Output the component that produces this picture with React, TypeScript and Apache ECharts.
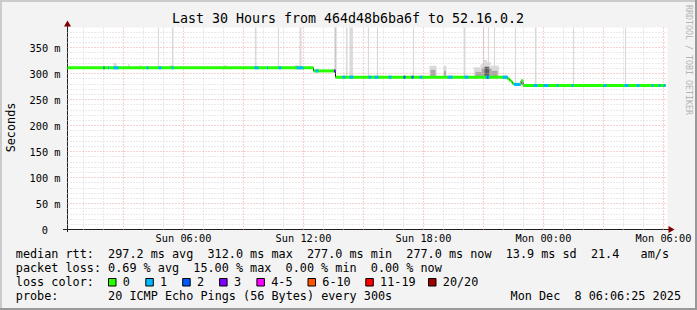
import React, { useEffect, useRef } from 'react';
import * as echarts from 'echarts';

// ---- data (x = hours since Sun 00:00, y = milliseconds) ----
const TITLE = 'Last 30 Hours from 464d48b6ba6f to 52.16.0.2';
const X_MIN = 0.2;
const X_MAX = 30.2;
const Y_MAX = 388.5;
const xLabelHours = [6, 12, 18, 24, 30];
const xLabelTexts = ['Sun 06:00', 'Sun 12:00', 'Sun 18:00', 'Mon 00:00', 'Mon 06:00'];
const yLabelValues = [0, 50, 100, 150, 200, 250, 300, 350];

// [startHour, endHour, median ms]
const medianSegments: number[][] = [
  [0.2, 12.5, 311],
  [12.5, 13.6, 305],
  [13.6, 22.2, 293],
  [22.2, 22.3, 290],
  [22.3, 22.38, 287],
  [22.38, 22.45, 284],
  [22.45, 22.52, 281],
  [22.52, 22.88, 279],
  [22.88, 22.98, 286],
  [22.98, 30.1, 277],
];

// [startHour, endHour, median ms, loss class]
const lossSegments: number[][] = [
  [2.0, 2.05, 311, 2],
  [2.22, 2.28, 311, 1],
  [2.5, 2.75, 311, 1],
  [4.15, 4.25, 311, 1],
  [4.75, 4.9, 311, 1],
  [5.4, 5.5, 311, 1],
  [9.55, 9.75, 311, 1],
  [10.17, 10.23, 311, 1],
  [10.75, 10.9, 311, 1],
  [11.65, 12.0, 311, 1],
  [12.6, 12.75, 305, 1],
  [13.52, 13.6, 305, 3],
  [13.95, 14.1, 293, 1],
  [14.3, 14.5, 293, 1],
  [15.25, 15.4, 293, 1],
  [15.55, 15.75, 293, 1],
  [16.25, 16.4, 293, 1],
  [17.0, 17.1, 293, 2],
  [17.4, 17.5, 293, 2],
  [17.8, 17.95, 293, 1],
  [19.2, 19.45, 293, 1],
  [20.05, 20.25, 293, 1],
  [21.1, 21.3, 293, 1],
  [21.18, 21.24, 293, 2],
  [21.95, 22.2, 293, 1],
  [22.52, 22.85, 279, 1],
  [23.5, 23.7, 277, 1],
  [24.0, 24.25, 277, 1],
  [24.65, 24.75, 277, 1],
  [25.4, 25.5, 277, 1],
  [27.0, 27.15, 277, 1],
  [28.05, 28.25, 277, 1],
  [28.65, 28.8, 277, 1],
  [29.4, 29.5, 277, 1],
  [29.75, 29.85, 277, 1],
  [30.0, 30.1, 277, 1],
];

// outlier pings running off the top: [startHour, endHour, from ms, shade]
const spikes: number[][] = [
  [4.72, 4.78, 311, 0],
  [5.42, 5.5, 311, 0],
  [9.57, 9.65, 311, 0],
  [10.72, 10.78, 311, 0],
  [11.8, 11.9, 311, 0],
  [13.55, 13.65, 305, 3],
  [14.12, 14.2, 293, 0],
  [14.3, 14.47, 293, 0],
  [15.22, 15.28, 293, 0],
  [15.67, 15.73, 293, 0],
  [17.47, 17.53, 293, 0],
  [20.02, 20.1, 293, 0],
  [20.97, 21.03, 293, 0],
  [21.22, 21.28, 293, 0],
  [21.52, 21.58, 293, 0],
  [22.57, 22.63, 280, 0],
  [23.57, 23.65, 277, 0],
  [25.47, 25.53, 277, 0],
  [28.07, 28.13, 277, 0],
];

// smoke: [startHour, endHour, low ms, high ms, shade]
const smoke: number[][] = [
  [2.5, 2.65, 311, 320, 0],
  [3.22, 3.3, 311, 318, 0],
  [3.8, 3.9, 311, 316, 0],
  [5.3, 5.45, 311, 316, 0],
  [8.0, 8.15, 311, 316, 0],
  [11.55, 11.75, 311, 316, 0],
  [12.65, 12.75, 305, 309, 0],
  [18.3, 18.65, 293, 315, 0],
  [18.35, 18.6, 293, 307, 1],
  [19.0, 19.15, 293, 315, 0],
  [19.03, 19.12, 293, 305, 1],
  [20.52, 20.85, 293, 312, 0],
  [20.85, 20.98, 293, 318, 0],
  [20.98, 21.18, 293, 326, 0],
  [21.18, 21.35, 293, 322, 0],
  [21.35, 21.77, 293, 315, 0],
  [20.6, 20.9, 293, 303, 1],
  [20.9, 21.4, 293, 310, 1],
  [21.4, 21.7, 293, 305, 1],
  [21.05, 21.28, 293, 313, 2],
  [23.75, 23.85, 277, 281, 0],
];

const smokeShades = ['#dadada', '#a9a9a9', '#5f5f5f', '#c8c8c8'];
const lossColors = ['#26ff00', '#00b8ff', '#0059ff', '#7e00ff', '#ff00ff', '#ff5500', '#ff0000', '#a10000'];
const lossLabels = ['0', '1', '2', '3', '4-5', '6-10', '11-19', '20/20'];

const rttLine = ['median rtt:', '297.2 ms avg', '312.0 ms max', '277.0 ms min', '277.0 ms now', '13.9 ms sd', '21.4', 'am/s'];
const rttCols = [0, 13, 27, 41, 55, 69, 81, 88];
const lossLine = ['packet loss:', '0.69 % avg', '15.00 % max', '0.00 % min', '0.00 % now'];
const lossCols = [0, 13, 25, 38, 50];
const probeLabel = 'probe:';
const probeText = '20 ICMP Echo Pings (56 Bytes) every 300s';
const stamp = ['Mon Dec', '8 06:06:25 2025'];

const MONO = '"DejaVu Sans Mono", "Liberation Mono", monospace';

export default function App() {
  const ref = useRef<HTMLDivElement>(null);

  useEffect(() => {
    if (!ref.current) return;
    const chart = echarts.init(ref.current, undefined, { renderer: 'svg' });

    const COL = 7.1;
    const X0 = 15.8;
    const legendFont = `11.8px ${MONO}`;
    const txt = (text: string, x: number, y: number, extra: any = {}) => ({
      type: 'text',
      x,
      y,
      silent: true,
      style: { text, font: legendFont, fill: '#000', textAlign: 'left', textVerticalAlign: 'middle', ...extra },
    });

    const graphics: any[] = [];
    // frame shading
    graphics.push({ type: 'rect', shape: { x: 0, y: 0, width: 697, height: 2 }, style: { fill: '#cbcbcb' }, silent: true });
    graphics.push({ type: 'rect', shape: { x: 0, y: 0, width: 2, height: 310 }, style: { fill: '#cbcbcb' }, silent: true });
    graphics.push({ type: 'rect', shape: { x: 695, y: 0, width: 2, height: 310 }, style: { fill: '#999999' }, silent: true });
    graphics.push({ type: 'rect', shape: { x: 0, y: 308, width: 697, height: 2 }, style: { fill: '#999999' }, silent: true });

    graphics.push({
      type: 'text', x: 348, y: 18.5, silent: true,
      style: { text: TITLE, font: `13.3px ${MONO}`, fill: '#000', textAlign: 'center', textVerticalAlign: 'middle' },
    });
    graphics.push({
      type: 'text', x: 10.5, y: 127.5, rotation: Math.PI / 2, silent: true,
      style: { text: 'Seconds', font: legendFont, fill: '#000', textAlign: 'center', textVerticalAlign: 'middle' },
    });
    graphics.push({
      type: 'text', x: 689, y: 5, rotation: -Math.PI / 2, silent: true,
      style: { text: 'RRDTOOL / TOBI OETIKER', font: `8.3px ${MONO}`, fill: '#b3b3b3', textAlign: 'left', textVerticalAlign: 'middle' },
    });
    // axis extensions and arrows
    graphics.push({ type: 'line', shape: { x1: 63, y1: 229.5, x2: 669, y2: 229.5 }, style: { stroke: '#202020', lineWidth: 1 }, silent: true });
    graphics.push({ type: 'line', shape: { x1: 67.5, y1: 232, x2: 67.5, y2: 26 }, style: { stroke: '#202020', lineWidth: 1 }, silent: true });
    graphics.push({ type: 'polygon', shape: { points: [[64, 26.5], [71, 26.5], [67.5, 20.5]] }, style: { fill: '#7f0000' }, silent: true });
    graphics.push({ type: 'polygon', shape: { points: [[668.5, 226], [668.5, 233], [674.5, 229.5]] }, style: { fill: '#7f0000' }, silent: true });

    // legend rows
    rttLine.forEach((t, i) => graphics.push(txt(t, X0 + rttCols[i] * COL, 254)));
    lossLine.forEach((t, i) => graphics.push(txt(t, X0 + lossCols[i] * COL, 268)));
    graphics.push(txt('loss color:', X0, 282));
    const boxX = [108, 145.3, 182.2, 219.1, 256.4, 307.5, 365.3, 428];
    lossLabels.forEach((l, i) => {
      graphics.push({
        type: 'rect', silent: true,
        shape: { x: boxX[i] + 0.5, y: 278.5, width: 7.5, height: 7.5 },
        style: { fill: lossColors[i], stroke: '#000', lineWidth: 1 },
      });
      graphics.push(txt(l, boxX[i] + 14.8, 282));
    });
    graphics.push(txt(probeLabel, X0, 296));
    graphics.push(txt(probeText, X0 + 13 * COL, 296));
    graphics.push(txt(stamp[1], 681, 296, { textAlign: 'right' }));
    graphics.push(txt(stamp[0], 681 - 17 * COL, 296, { textAlign: 'right' }));

    // grid lines as mark lines
    const minorStyle = { color: '#d4d4d4', width: 1, type: [1, 2] };
    const majorStyle = { color: '#eba3a3', width: 1, type: [1, 2] };
    const gridLines: any[] = [];
    for (let h = 1; h <= 30; h++) {
      gridLines.push({ xAxis: h, lineStyle: h % 3 === 0 ? majorStyle : minorStyle });
    }
    for (let v = 10; v <= 380; v += 10) {
      gridLines.push({ yAxis: v, lineStyle: v % 50 === 0 ? majorStyle : minorStyle });
    }

    const medianLine: number[][] = [];
    medianSegments.forEach((s) => {
      medianLine.push([s[0], s[2]]);
      medianLine.push([s[1], s[2]]);
    });

    const segRender = (colorOf: (api: any) => string) => (params: any, api: any) => {
      const a = api.coord([api.value(0), api.value(2)]);
      const b = api.coord([api.value(1), api.value(2)]);
      return {
        type: 'rect',
        shape: { x: a[0], y: a[1] - 1.5, width: Math.max(1, b[0] - a[0]), height: 3 },
        style: { fill: colorOf(api) },
      };
    };

    const option: any = {
      animation: false,
      backgroundColor: '#f3f3f3',
      grid: { left: 67.5, top: 27.5, width: 600, height: 202, show: true, backgroundColor: '#ffffff', borderWidth: 0 },
      xAxis: {
        type: 'value',
        min: X_MIN,
        max: X_MAX,
        axisLine: { show: true, lineStyle: { color: '#202020', width: 1 } },
        axisTick: { show: false },
        splitLine: { show: false },
        axisLabel: {
          customValues: xLabelHours,
          margin: 3,
          color: '#000',
          fontFamily: MONO,
          fontSize: 10.3,
          formatter: (v: number) => {
            const i = xLabelHours.indexOf(Math.round(v));
            return i >= 0 ? xLabelTexts[i] : '';
          },
        },
      },
      yAxis: {
        type: 'value',
        min: 0,
        max: Y_MAX,
        axisLine: { show: true, lineStyle: { color: '#202020', width: 1 } },
        axisTick: { show: false },
        splitLine: { show: false },
        axisLabel: {
          customValues: yLabelValues,
          margin: 7,
          color: '#000',
          fontFamily: MONO,
          fontSize: 10.3,
          formatter: (v: number) => (v === 0 ? '{z|0}' : `${v} m`),
          rich: { z: { padding: [0, 12.5, 0, 0], fontFamily: MONO, fontSize: 10.3, color: '#000' } },
        },
      },
      graphic: graphics,
      series: [
        {
          type: 'line',
          name: 'grid',
          data: [],
          z: 1,
          silent: true,
          markLine: { symbol: ['none', 'none'], silent: true, label: { show: false }, animation: false, data: gridLines },
        },
        {
          type: 'custom',
          name: 'outliers',
          z: 2,
          silent: true,
          data: spikes,
          renderItem: (params: any, api: any) => {
            const a = api.coord([api.value(0), Y_MAX]);
            const b = api.coord([api.value(1), api.value(2)]);
            return {
              type: 'rect',
              shape: { x: a[0], y: a[1], width: Math.max(1, b[0] - a[0]), height: b[1] - a[1] },
              style: { fill: smokeShades[api.value(3)] },
            };
          },
        },
        {
          type: 'custom',
          name: 'smoke',
          z: 3,
          silent: true,
          data: smoke,
          renderItem: (params: any, api: any) => {
            const a = api.coord([api.value(0), api.value(3)]);
            const b = api.coord([api.value(1), api.value(2)]);
            return {
              type: 'rect',
              shape: { x: a[0], y: a[1], width: Math.max(1, b[0] - a[0]), height: b[1] - a[1] },
              style: { fill: smokeShades[api.value(4)] },
            };
          },
        },
        {
          type: 'line',
          name: 'median step',
          data: medianLine,
          z: 4,
          silent: true,
          symbol: 'none',
          lineStyle: { color: '#000', width: 1 },
        },
        {
          type: 'custom',
          name: 'median',
          z: 5,
          silent: true,
          data: medianSegments,
          renderItem: segRender(() => lossColors[0]),
        },
        {
          type: 'custom',
          name: 'loss',
          z: 6,
          silent: true,
          data: lossSegments,
          renderItem: segRender((api: any) => lossColors[api.value(3)]),
        },
      ],
    };

    chart.setOption(option);
    return () => chart.dispose();
  }, []);

  return <div ref={ref} style={{ position: 'absolute', left: 0, top: 0, width: 697, height: 310 }} />;
}
